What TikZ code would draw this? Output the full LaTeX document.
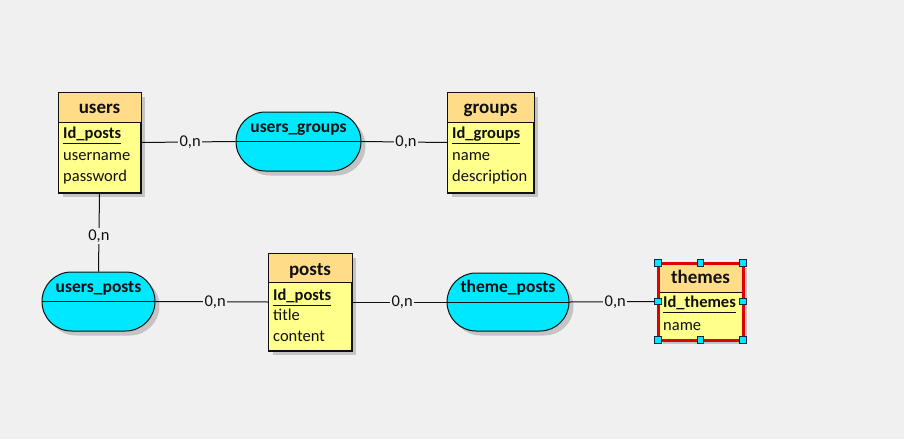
\documentclass[tikz,border=0pt]{standalone}
\usepackage{fontspec}
\setmainfont{Carlito}
\usetikzlibrary{shapes.misc,shadows,calc}
\definecolor{bg}{HTML}{F0F0F0}
\definecolor{headO}{HTML}{FFDD88}
\definecolor{bodyY}{HTML}{FFFF8C}
\definecolor{relC}{HTML}{00E8FF}
\definecolor{shad}{HTML}{C4C4C4}
\definecolor{selR}{HTML}{E00000}
\definecolor{hdlB}{HTML}{0A2850}
\definecolor{ink}{HTML}{101010}
\begin{document}
\begin{tikzpicture}[x=1pt,y=-1pt,
  eshadow/.style={drop shadow={shadow xshift=4.5pt,shadow yshift=-4.5pt,opacity=1,fill=shad}},
  ebody/.style={draw=ink,line width=1pt,fill=bodyY,inner sep=0pt,anchor=north west,eshadow},
  etitle/.style={anchor=base,inner sep=0pt,font=\fontsize{19}{19}\selectfont\bfseries,text=ink},
  erow/.style={anchor=base west,inner sep=0pt,font=\fontsize{16.5}{16.5}\selectfont,text=ink},
  ekey/.style={erow,font=\fontsize{16.5}{16.5}\selectfont\bfseries},
  rel/.style={rounded rectangle,draw=ink,line width=1pt,fill=relC,inner sep=0pt,eshadow},
  rtitle/.style={anchor=base,inner sep=0pt,font=\fontsize{17.5}{17.5}\selectfont\bfseries,text=ink},
  conn/.style={draw=ink,line width=1pt},
  lab/.style={fill=bg,inner sep=1.5pt,font=\fontsize{16.5}{16.5}\selectfont,text=ink},
  handle/.style={draw=hdlB,fill=relC,line width=0.9pt,minimum size=6.5pt,inner sep=0pt}
]
\path[fill=bg] (0,0) rectangle (904,439);

% ---------- users ----------
\node[ebody,minimum width=82pt,minimum height=100pt] (users) at (58,92) {};
\fill[headO] (users.north west) rectangle ($(users.north east)+(0,30)$);
\draw[conn] (users.north west) rectangle (users.south east);
\draw[conn] ($(users.north west)+(0,30)$) -- ($(users.north east)+(0,30)$);
\node[etitle] (usersT) at ($(users.north)+(0,21)$) {users};
\node[ekey] (usersK) at ($(users.north west)+(5,46)$) {Id\_posts};
\draw[conn] ([yshift=-5pt]usersK.base west) -- ([yshift=-5pt]usersK.base east);
\node[erow] (usersA) at ($(users.north west)+(5,68)$) {username};
\node[erow] (usersB) at ($(users.north west)+(5,89)$) {password};

% ---------- groups ----------
\node[ebody,minimum width=86pt,minimum height=100pt] (groups) at (447,92) {};
\fill[headO] (groups.north west) rectangle ($(groups.north east)+(0,30)$);
\draw[conn] (groups.north west) rectangle (groups.south east);
\draw[conn] ($(groups.north west)+(0,30)$) -- ($(groups.north east)+(0,30)$);
\node[etitle] (groupsT) at ($(groups.north)+(0,21)$) {groups};
\node[ekey] (groupsK) at ($(groups.north west)+(5,46)$) {Id\_groups};
\draw[conn] ([yshift=-5pt]groupsK.base west) -- ([yshift=-5pt]groupsK.base east);
\node[erow] (groupsA) at ($(groups.north west)+(5,68)$) {name};
\node[erow] (groupsB) at ($(groups.north west)+(5,89)$) {description};

% ---------- posts ----------
\node[ebody,minimum width=83pt,minimum height=97pt] (posts) at (268,253) {};
\fill[headO] (posts.north west) rectangle ($(posts.north east)+(0,29)$);
\draw[conn] (posts.north west) rectangle (posts.south east);
\draw[conn] ($(posts.north west)+(0,29)$) -- ($(posts.north east)+(0,29)$);
\node[etitle] (postsT) at ($(posts.north)+(0,22)$) {posts};
\node[ekey] (postsK) at ($(posts.north west)+(5,47)$) {Id\_posts};
\draw[conn] ([yshift=-5pt]postsK.base west) -- ([yshift=-5pt]postsK.base east);
\node[erow] (postsA) at ($(posts.north west)+(5,67)$) {title};
\node[erow] (postsB) at ($(posts.north west)+(5,88)$) {content};

% ---------- themes (selected) ----------
\node[ebody,minimum width=84pt,minimum height=76pt] (themes) at (658,263) {};
\fill[headO] (themes.north west) rectangle ($(themes.north east)+(0,29)$);
\draw[conn] ($(themes.north west)+(0,29)$) -- ($(themes.north east)+(0,29)$);
\draw[draw=selR,line width=3pt] (themes.north west) rectangle (themes.south east);
\node[etitle] (themesT) at ($(themes.north)+(0,20)$) {themes};
\node[ekey] (themesK) at ($(themes.north west)+(5,44)$) {Id\_themes};
\draw[conn] ([yshift=-5pt]themesK.base west) -- ([yshift=-5pt]themesK.base east);
\node[erow] (themesA) at ($(themes.north west)+(5,67)$) {name};
\node[handle] (h1) at (themes.north west) {};
\node[handle] (h2) at (themes.north) {};
\node[handle] (h3) at (themes.north east) {};
\node[handle] (h4) at (themes.east) {};
\node[handle] (h5) at (themes.south east) {};
\node[handle] (h6) at (themes.south) {};
\node[handle] (h7) at (themes.south west) {};
\node[handle] (h8) at (themes.west) {};

% ---------- relations ----------
\node[rel,minimum width=125pt,minimum height=59pt] (ug) at (298.5,141.5) {};
\draw[conn] (ug.west) -- (ug.east);
\node[rtitle] (ugT) at ($(ug.center)+(0,-9.5)$) {users\_groups};

\node[rel,minimum width=113pt,minimum height=59pt] (up) at (98.5,301.5) {};
\draw[conn] (up.west) -- (up.east);
\node[rtitle] (upT) at ($(up.center)+(0,-9)$) {users\_posts};

\node[rel,minimum width=122pt,minimum height=58pt] (tp) at (508,302) {};
\draw[conn] (tp.west) -- (tp.east);
\node[rtitle] (tpT) at ($(tp.center)+(0,-10)$) {theme\_posts};

% ---------- connectors ----------
\draw[conn] (users.east) -- node[lab,pos=0.52] {0,n} (ug.west);
\draw[conn] (ug.east) -- node[lab,pos=0.52] {0,n} (groups.west);
\draw[conn] (users.south) -- node[lab,pos=0.55] {0,n} (up.north);
\draw[conn] (up.east) -- node[lab,pos=0.53] {0,n} (posts.west);
\draw[conn] (posts.east) -- node[lab,pos=0.53] {0,n} (tp.west);
\draw[conn] (tp.east) -- node[lab,pos=0.54] {0,n} (h8.west);
\end{tikzpicture}
\end{document}
